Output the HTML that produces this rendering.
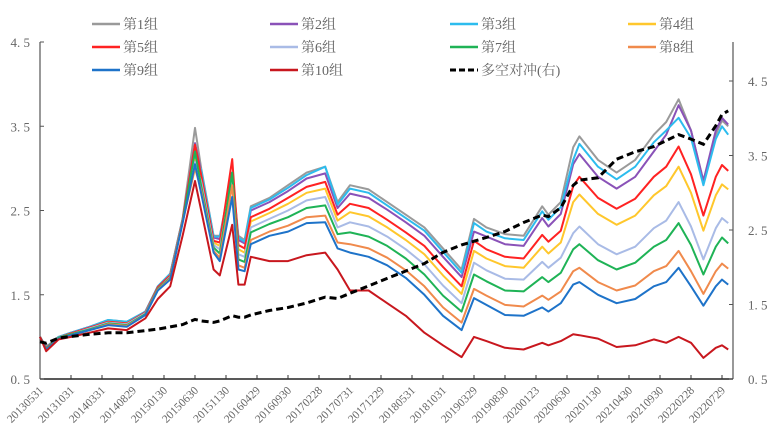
<!DOCTYPE html>
<html><head><meta charset="utf-8">
<style>
html,body{margin:0;padding:0;background:#fff;}
svg text{font-family:"Liberation Serif","Noto Serif CJK SC",serif;fill:#666;}
</style></head>
<body>
<svg id="chart" width="771" height="438" viewBox="0 0 771 438" xmlns="http://www.w3.org/2000/svg">
<g id="axes"></g>
<g id="series"></g>
<g id="legend"></g>
</svg>
<script>
const months = [0,1,3,5,8,11,14,17,19,21,23,25,26,28,29,31,32,33,34,37,40,43,46,48,50,53,56,59,62,65,68,70,72,75,78,81,82,84,86,87,90,93,96,99,101,103,105,107,109,110,111];
const tickLabels = ["20130531","20131031","20140331","20140829","20150130","20150630","20151130","20160429","20160930","20170228","20170731","20171229","20180531","20181031","20190329","20190830","20200123","20200630","20201130","20210430","20210930","20220228","20220729"];
const leftTicks = [0.5,1.5,2.5,3.5,4.5];
const rightTicks = [0.5,1.5,2.5,3.5,4.5];
const seriesNames = ["第1组","第2组","第3组","第4组","第5组","第6组","第7组","第8组","第9组","第10组","多空对冲(右)"];
const g1 = [1.0,0.88,1.0,1.05,1.12,1.2,1.18,1.3,1.6,1.75,2.4,3.48,3.0,2.2,2.2,2.95,2.2,2.15,2.55,2.65,2.8,2.95,3.02,2.6,2.8,2.75,2.6,2.45,2.3,2.05,1.8,2.4,2.3,2.22,2.2,2.55,2.45,2.6,3.25,3.38,3.1,2.95,3.1,3.4,3.55,3.82,3.45,2.85,3.4,3.57,3.5];
const g2 = [1.0,0.88,1.0,1.05,1.12,1.19,1.17,1.3,1.59,1.74,2.39,3.3,2.96,2.18,2.16,2.95,2.15,2.11,2.5,2.6,2.73,2.88,2.94,2.53,2.7,2.65,2.51,2.36,2.2,1.95,1.71,2.25,2.19,2.1,2.08,2.41,2.31,2.46,3.05,3.17,2.9,2.76,2.9,3.2,3.4,3.75,3.45,2.85,3.45,3.6,3.52];
const g3 = [1.0,0.88,1.0,1.05,1.12,1.2,1.18,1.3,1.6,1.75,2.4,3.15,2.98,2.19,2.19,2.9,2.18,2.13,2.53,2.63,2.77,2.92,3.02,2.57,2.76,2.71,2.56,2.41,2.26,2.01,1.76,2.35,2.25,2.17,2.15,2.49,2.39,2.54,3.1,3.29,3.02,2.87,3.02,3.31,3.45,3.6,3.36,2.8,3.35,3.5,3.4];
const g4 = [1.0,0.87,0.99,1.04,1.1,1.18,1.16,1.28,1.58,1.72,2.38,3.1,2.88,2.12,2.08,2.85,2.04,2.0,2.37,2.47,2.58,2.71,2.76,2.38,2.48,2.43,2.3,2.15,1.98,1.73,1.51,2.02,1.93,1.84,1.82,2.07,1.99,2.12,2.6,2.69,2.46,2.33,2.44,2.68,2.79,3.02,2.71,2.26,2.68,2.81,2.75];
const g5 = [1.0,0.87,0.99,1.04,1.11,1.18,1.16,1.29,1.59,1.73,2.39,3.28,2.92,2.14,2.12,3.11,2.09,2.05,2.42,2.52,2.65,2.78,2.84,2.45,2.58,2.53,2.39,2.24,2.08,1.83,1.6,2.14,2.04,1.95,1.93,2.21,2.13,2.26,2.79,2.9,2.65,2.52,2.64,2.9,3.02,3.26,2.93,2.44,2.9,3.04,2.97];
const g6 = [1.0,0.86,0.99,1.03,1.1,1.17,1.15,1.28,1.57,1.71,2.37,3.08,2.84,2.09,2.04,2.9,1.98,1.95,2.3,2.4,2.5,2.62,2.66,2.3,2.36,2.31,2.19,2.04,1.86,1.61,1.4,1.88,1.79,1.69,1.68,1.89,1.82,1.94,2.23,2.31,2.1,1.98,2.07,2.29,2.38,2.6,2.31,1.92,2.29,2.41,2.35];
const g7 = [1.0,0.86,0.99,1.03,1.09,1.16,1.14,1.27,1.57,1.7,2.37,3.2,2.79,2.06,1.99,2.95,1.92,1.89,2.24,2.34,2.42,2.53,2.56,2.22,2.24,2.19,2.08,1.93,1.74,1.49,1.3,1.74,1.66,1.55,1.54,1.71,1.65,1.76,2.04,2.1,1.91,1.8,1.88,2.07,2.15,2.35,2.09,1.74,2.07,2.18,2.11];
const g8 = [1.0,0.85,0.98,1.02,1.08,1.15,1.13,1.26,1.56,1.69,2.36,3.0,2.74,2.02,1.94,2.8,1.85,1.82,2.15,2.25,2.32,2.42,2.44,2.12,2.1,2.05,1.94,1.79,1.6,1.35,1.17,1.57,1.49,1.38,1.36,1.49,1.44,1.54,1.78,1.82,1.65,1.55,1.61,1.78,1.84,2.02,1.78,1.51,1.78,1.87,1.81];
const g9 = [1.0,0.85,0.98,1.02,1.08,1.14,1.12,1.26,1.55,1.68,2.35,3.05,2.7,2.0,1.9,2.66,1.8,1.78,2.1,2.2,2.25,2.35,2.36,2.05,2.0,1.95,1.85,1.7,1.5,1.25,1.08,1.46,1.38,1.26,1.25,1.35,1.3,1.4,1.62,1.65,1.5,1.4,1.45,1.6,1.65,1.82,1.6,1.37,1.6,1.68,1.62];
const g10 = [1.0,0.83,0.97,1.0,1.05,1.1,1.08,1.22,1.45,1.6,2.2,2.85,2.5,1.8,1.73,2.33,1.62,1.62,1.95,1.9,1.9,1.97,2.0,1.8,1.55,1.55,1.4,1.25,1.05,0.9,0.76,1.0,0.95,0.87,0.85,0.93,0.9,0.95,1.03,1.02,0.98,0.88,0.9,0.97,0.93,1.0,0.93,0.75,0.87,0.9,0.85];
const hedge = [1.0,0.98,1.05,1.07,1.1,1.12,1.12,1.15,1.17,1.2,1.23,1.3,1.28,1.26,1.28,1.35,1.33,1.33,1.36,1.42,1.46,1.52,1.6,1.58,1.65,1.75,1.85,1.95,2.05,2.2,2.3,2.35,2.4,2.48,2.6,2.7,2.68,2.8,3.1,3.17,3.2,3.45,3.55,3.62,3.7,3.78,3.72,3.65,3.9,4.05,4.1];

const colors = ["#9a9a9a","#8a52b8","#2cbcee","#ffc72c","#ff2222","#a9bbe6","#1fb356","#f08a4c","#1e73c9","#c8171e"];
const groups = [g1,g2,g3,g4,g5,g6,g7,g8,g9,g10];

const NS = "http://www.w3.org/2000/svg";
const X0 = 40, X1 = 733, YB = 379, YT = 42;
function xm(i){ return X0 + 6.2*i; }
function yl(v){ return YB - (v-0.5)*84.25; }
function yr(v){ return YB - (v-0.5)*74.5; }
function mk(tag, attrs, parent){ const e=document.createElementNS(NS,tag); for(const k in attrs) e.setAttribute(k,attrs[k]); parent.appendChild(e); return e; }

const axes = document.getElementById('axes');
let el = mk('line',{x1:X0,y1:YT,x2:X0,y2:YB,stroke:'#555','stroke-width':1.2},axes);
 
el = mk('line',{x1:X1,y1:YT,x2:X1,y2:YB,stroke:'#555','stroke-width':1.2},axes);
 
el = mk('line',{x1:X0,y1:YB,x2:X1,y2:YB,stroke:'#222','stroke-width':1.5},axes);
 
leftTicks.forEach(v=>{
  const y=yl(v);
  const t=mk('line',{x1:X0,y1:y,x2:X0+4,y2:y,stroke:'#555'},axes);
   
  const tx=mk('text',{x:X0-10,y:y+5,'text-anchor':'end','font-size':13},axes);
  tx.textContent=v.toFixed(1).replace('.', '. ');
   
});
rightTicks.forEach(v=>{
  const y=yr(v);
  const t=mk('line',{x1:X1-4,y1:y,x2:X1,y2:y,stroke:'#555'},axes);
   
  const tx=mk('text',{x:X1+15,y:y+5,'text-anchor':'start','font-size':13},axes);
  tx.textContent=v.toFixed(1).replace('.', '. ');
   
});
tickLabels.forEach((lab,k)=>{
  const x=xm(5*k);
  if(k>0){ const t=mk('line',{x1:x,y1:YB,x2:x,y2:YB-4,stroke:'#333'},axes);
      }
  const tx=mk('text',{x:x+4,y:YB+12,'text-anchor':'end','font-size':11.5,transform:`rotate(-45 ${x+4} ${YB+12})`},axes);
  tx.textContent=lab;
   
});

const ser = document.getElementById('series');
groups.forEach((arr,gi)=>{
  const d = arr.map((v,j)=>(j?'L':'M')+xm(months[j]).toFixed(1)+' '+yl(v).toFixed(1)).join(' ');
  const p = mk('path',{d:d,fill:'none',stroke:colors[gi],'stroke-width':2,'stroke-linejoin':'round'},ser);
  
  
});
{
  const d = hedge.map((v,j)=>(j?'L':'M')+xm(months[j]).toFixed(1)+' '+yr(v).toFixed(1)).join(' ');
  const p = mk('path',{d:d,fill:'none',stroke:'#000','stroke-width':3,'stroke-dasharray':'7 4'},ser);
  
  
}

const leg = document.getElementById('legend');
const cols=[92,270,450,628], rows=[24,47,70];
seriesNames.forEach((nm,i)=>{
  const x=cols[i%4], y=rows[Math.floor(i/4)];
  const g=mk('g',{},leg);
  
  
  const isH = i===10;
  mk('line',{x1:x,y1:y,x2:x+28,y2:y,stroke:isH?'#000':colors[i],'stroke-width':isH?3:2.5,'stroke-dasharray':isH?'6 3':'none'},g);
  const t=mk('text',{x:x+31,y:y+5,'font-size':14},g);
  t.textContent=nm;
});
</script>
</body></html>
